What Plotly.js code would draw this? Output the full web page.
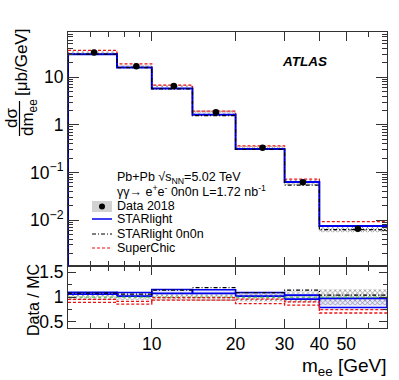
<!DOCTYPE html>
<html>
<head>
<meta charset="utf-8">
<script src="https://cdn.plot.ly/plotly-3.0.1.min.js"></script>
<style>
  html, body { margin: 0; padding: 0; background: #fff; }
  #chart { width: 399px; height: 380px; }
</style>
</head>
<body>
<div id="chart"></div>
<script>
// bin edges in m_ee [GeV]
const edges = [5, 7.5, 10, 14, 20, 30, 40, 70];

// data 2018 (upper panel)
const dataX = [6.2, 8.8, 12.0, 17.0, 25.0, 34.9, 55];
const dataY = [32.8, 16.9, 6.5, 1.84, 0.33, 0.062, 0.0066];

// models, upper panel
const starlight = [30.4, 16.0, 5.8, 1.62, 0.31, 0.063, 0.0075];
const starlight0n0n = [30.5, 15.9, 5.7, 1.55, 0.305, 0.054, 0.0063];
const superchic = [36.5, 19.0, 6.8, 1.93, 0.36, 0.072, 0.0093];

// ratio panel (Data / MC)
const bandLo = [0.94, 0.94, 0.93, 0.92, 0.91, 0.88, 0.84];
const bandHi = [1.06, 1.06, 1.07, 1.08, 1.09, 1.12, 1.16];
const slLo = [1.06, 1.02, 1.075, 1.075, 1.02, 0.96, 0.79];
const slHi = [1.10, 1.095, 1.155, 1.15, 1.095, 1.04, 0.975];
const s0Ratio = [1.08, 1.06, 1.14, 1.19, 1.09, 1.14, 1.04];
const scLo = [0.893, 0.858, 0.94, 0.94, 0.87, 0.84, 0.68];
const scHi = [0.953, 0.913, 0.99, 0.99, 0.96, 0.905, 0.75];
const unityX = [5, 70];
const unityY = [1, 1];

const FONT = 'Liberation Sans, Arial, Helvetica, sans-serif';
const AX = '#333';

// helpers
function steps(v) {
  return v.concat([v[v.length - 1]]);
}
// histogram outline that starts from the bottom of the log panel, like ROOT
function histX() { return [edges[0]].concat(edges); }
function histY(v) { return [1e-4].concat(steps(v)); }
function boxes(lo, hi) {
  let x = [], y = [];
  for (let i = 0; i < lo.length; i++) {
    x.push(edges[i], edges[i + 1], edges[i + 1], edges[i], edges[i], null);
    y.push(lo[i], lo[i], hi[i], hi[i], lo[i], null);
  }
  return {x: x, y: y};
}
function scaled(v, r) {
  return v.map((d, i) => d * r[i]);
}
function px(x) { return (x - 68) / 319; }
function py(y) { return (328 - y) / 296; }

let upBand = boxes(scaled(dataY, bandLo), scaled(dataY, bandHi));
let lowBand = boxes(bandLo, bandHi);
let slBox = boxes(slLo, slHi);

const hatch = {shape: 'x', fgcolor: '#8a8a8a', bgcolor: 'rgba(255,255,255,0)', size: 3.5, solidity: 0.4};

let traces = [
  // upper panel
  {x: upBand.x, y: upBand.y, xaxis: 'x2', yaxis: 'y2', mode: 'lines', fill: 'toself',
   fillcolor: 'rgba(210,210,210,0.3)', fillpattern: hatch, line: {width: 0}, hoverinfo: 'skip'},
  {x: histX(), y: histY(superchic), xaxis: 'x2', yaxis: 'y2', mode: 'lines',
   line: {shape: 'hv', color: '#ee1111', width: 1.3, dash: '3px,2px'}},
  {x: histX(), y: histY(starlight), xaxis: 'x2', yaxis: 'y2', mode: 'lines',
   line: {shape: 'hv', color: '#0000ee', width: 2}},
  {x: histX(), y: histY(starlight0n0n), xaxis: 'x2', yaxis: 'y2', mode: 'lines',
   line: {shape: 'hv', color: '#000', width: 1.2, dash: '4px,2px,1px,2px'}},
  {x: dataX, y: dataY, xaxis: 'x2', yaxis: 'y2', mode: 'markers',
   marker: {color: '#000', size: 6.5}},

  // ratio panel
  {x: lowBand.x, y: lowBand.y, xaxis: 'x', yaxis: 'y', mode: 'lines', fill: 'toself',
   fillcolor: 'rgba(210,210,210,0.3)', fillpattern: hatch, line: {width: 0}, hoverinfo: 'skip'},
  {x: slBox.x, y: slBox.y, xaxis: 'x', yaxis: 'y', mode: 'lines', fill: 'toself',
   fillcolor: 'rgba(90,90,255,0.12)', line: {color: '#0000ee', width: 1.6}},
  {x: unityX, y: unityY, xaxis: 'x', yaxis: 'y', mode: 'lines',
   line: {color: '#33bb33', width: 1, dash: 'dot'}},
  {x: edges, y: steps(scHi), xaxis: 'x', yaxis: 'y', mode: 'lines',
   line: {shape: 'hv', color: '#ee1111', width: 1.3, dash: '3px,2px'}},
  {x: edges, y: steps(scLo), xaxis: 'x', yaxis: 'y', mode: 'lines',
   line: {shape: 'hv', color: '#ee1111', width: 1.3, dash: '3px,2px'}},
  {x: edges, y: steps(s0Ratio), xaxis: 'x', yaxis: 'y', mode: 'lines',
   line: {shape: 'hv', color: '#000', width: 1.2, dash: '4px,2px,1px,2px'}}
];

// minor tick positions for the log axes
let yMinor = [];
for (let k = -3; k <= 1; k++) {
  for (let m = 2; m <= 9; m++) yMinor.push(m * Math.pow(10, k));
}
const xMinor = [6, 7, 8, 9, 60];

const xBase = {
  type: 'log', range: [Math.log10(5), Math.log10(70)],
  showline: true, linecolor: AX, linewidth: 1, mirror: 'allticks',
  ticks: 'inside', ticklen: 9, tickcolor: AX, showgrid: false, zeroline: false,
  tickvals: [10, 20, 30, 40, 50], ticktext: ['10', '20', '30', '40', '50'],
  minor: {tickvals: xMinor, ticks: 'inside', ticklen: 5, tickcolor: AX, showgrid: false},
  tickfont: {family: FONT, size: 17.5, color: '#000'}
};

let layout = {
  width: 399, height: 380,
  margin: {l: 68, r: 12, t: 32, b: 52},
  paper_bgcolor: '#fff', plot_bgcolor: '#fff',
  showlegend: false,
  font: {family: FONT, color: '#000'},
  xaxis: Object.assign({}, xBase, {anchor: 'y'}),
  xaxis2: Object.assign({}, xBase, {anchor: 'y2', matches: 'x', showticklabels: false}),
  yaxis: {
    domain: [0, 0.2105], range: [0.378, 1.634], anchor: 'x',
    showline: true, linecolor: AX, linewidth: 1, mirror: 'allticks',
    ticks: 'inside', ticklen: 8, tickcolor: AX, showgrid: false, zeroline: false,
    tickvals: [0.5, 1, 1.5], ticktext: ['0.5', '1', '1.5'],
    minor: {tickvals: [0.75, 1.25], ticks: 'inside', ticklen: 4, tickcolor: AX, showgrid: false},
    tickfont: {family: FONT, size: 17.5, color: '#000'}
  },
  yaxis2: {
    domain: [0.2105, 1], type: 'log', range: [-2.958, 1.948], anchor: 'x2',
    showline: true, linecolor: AX, linewidth: 1, mirror: 'allticks',
    ticks: 'inside', ticklen: 11, tickcolor: AX, showgrid: false, zeroline: false,
    tickvals: [0.01, 0.1, 1, 10],
    ticktext: ['10<sup>\u22122</sup>', '10<sup>\u22121</sup>', '1', '10'],
    minor: {tickvals: yMinor, ticks: 'inside', ticklen: 5, tickcolor: AX, showgrid: false},
    tickfont: {family: FONT, size: 17.5, color: '#000'}
  },
  shapes: [
    // legend samples
    {type: 'rect', xref: 'paper', yref: 'paper', x0: px(92), x1: px(112), y0: py(212), y1: py(201),
     fillcolor: '#d2d2d2', line: {width: 0}},
    {type: 'circle', xref: 'paper', yref: 'paper', x0: px(99), x1: px(105), y0: py(209.5), y1: py(203.5),
     fillcolor: '#000', line: {width: 0}},
    {type: 'line', xref: 'paper', yref: 'paper', x0: px(92), x1: px(112), y0: py(219), y1: py(219),
     line: {color: '#0000ee', width: 1.5}},
    {type: 'line', xref: 'paper', yref: 'paper', x0: px(92), x1: px(112), y0: py(234), y1: py(234),
     line: {color: '#000', width: 1.2, dash: '4px,2px,1px,2px'}},
    {type: 'line', xref: 'paper', yref: 'paper', x0: px(92), x1: px(112), y0: py(248), y1: py(248),
     line: {color: '#ee1111', width: 1.2, dash: '3px,2px'}}
  ],
  annotations: [
    {text: '<b><i>ATLAS</i></b>', xref: 'paper', yref: 'paper', x: px(280), y: py(62),
     xanchor: 'left', yanchor: 'middle', showarrow: false, font: {size: 13.5}},
    {text: 'Pb+Pb \u221As<sub>NN</sub>=5.02 TeV', xref: 'paper', yref: 'paper', x: px(115), y: py(178),
     xanchor: 'left', yanchor: 'middle', showarrow: false, font: {size: 12.5}},
    {text: '\u03B3\u03B3\u2192 e<sup>+</sup>e<sup>-</sup> 0n0n L=1.72 nb<sup>-1</sup>', xref: 'paper', yref: 'paper',
     x: px(115), y: py(191), xanchor: 'left', yanchor: 'middle', showarrow: false, font: {size: 12.5}},
    {text: 'Data 2018', xref: 'paper', yref: 'paper', x: px(115), y: py(206),
     xanchor: 'left', yanchor: 'middle', showarrow: false, font: {size: 12.5}},
    {text: 'STARlight', xref: 'paper', yref: 'paper', x: px(115), y: py(219),
     xanchor: 'left', yanchor: 'middle', showarrow: false, font: {size: 12.5}},
    {text: 'STARlight 0n0n', xref: 'paper', yref: 'paper', x: px(115), y: py(234),
     xanchor: 'left', yanchor: 'middle', showarrow: false, font: {size: 12.5}},
    {text: 'SuperChic', xref: 'paper', yref: 'paper', x: px(115), y: py(248),
     xanchor: 'left', yanchor: 'middle', showarrow: false, font: {size: 12.5}},
    // axis titles
    {text: 'm<sub>ee</sub> [GeV]', xref: 'paper', yref: 'paper', x: px(388), y: py(367),
     xanchor: 'right', yanchor: 'middle', showarrow: false, font: {size: 19}},
    {text: 'Data / MC', xref: 'paper', yref: 'paper', x: px(33), y: py(300), textangle: -90,
     xanchor: 'center', yanchor: 'middle', showarrow: false, font: {size: 16}},
    {text: '[\u03BCb/GeV]', xref: 'paper', yref: 'paper', x: px(21), y: py(63), textangle: -90,
     xanchor: 'center', yanchor: 'middle', showarrow: false, font: {size: 17}},
    {text: 'd\u03C3', xref: 'paper', yref: 'paper', x: px(11), y: py(118), textangle: -90,
     xanchor: 'center', yanchor: 'middle', showarrow: false, font: {size: 17}},
    {text: 'dm<sub>ee</sub>', xref: 'paper', yref: 'paper', x: px(29), y: py(118), textangle: -90,
     xanchor: 'center', yanchor: 'middle', showarrow: false, font: {size: 17}}
  ]
};

// fraction bar of the y title
layout.shapes.push({type: 'line', xref: 'paper', yref: 'paper', x0: px(19.5), x1: px(19.5),
  y0: py(101), y1: py(136), line: {color: '#000', width: 1.2}});

Plotly.newPlot('chart', traces, layout, {staticPlot: true, displayModeBar: false});
</script>
</body>
</html>
